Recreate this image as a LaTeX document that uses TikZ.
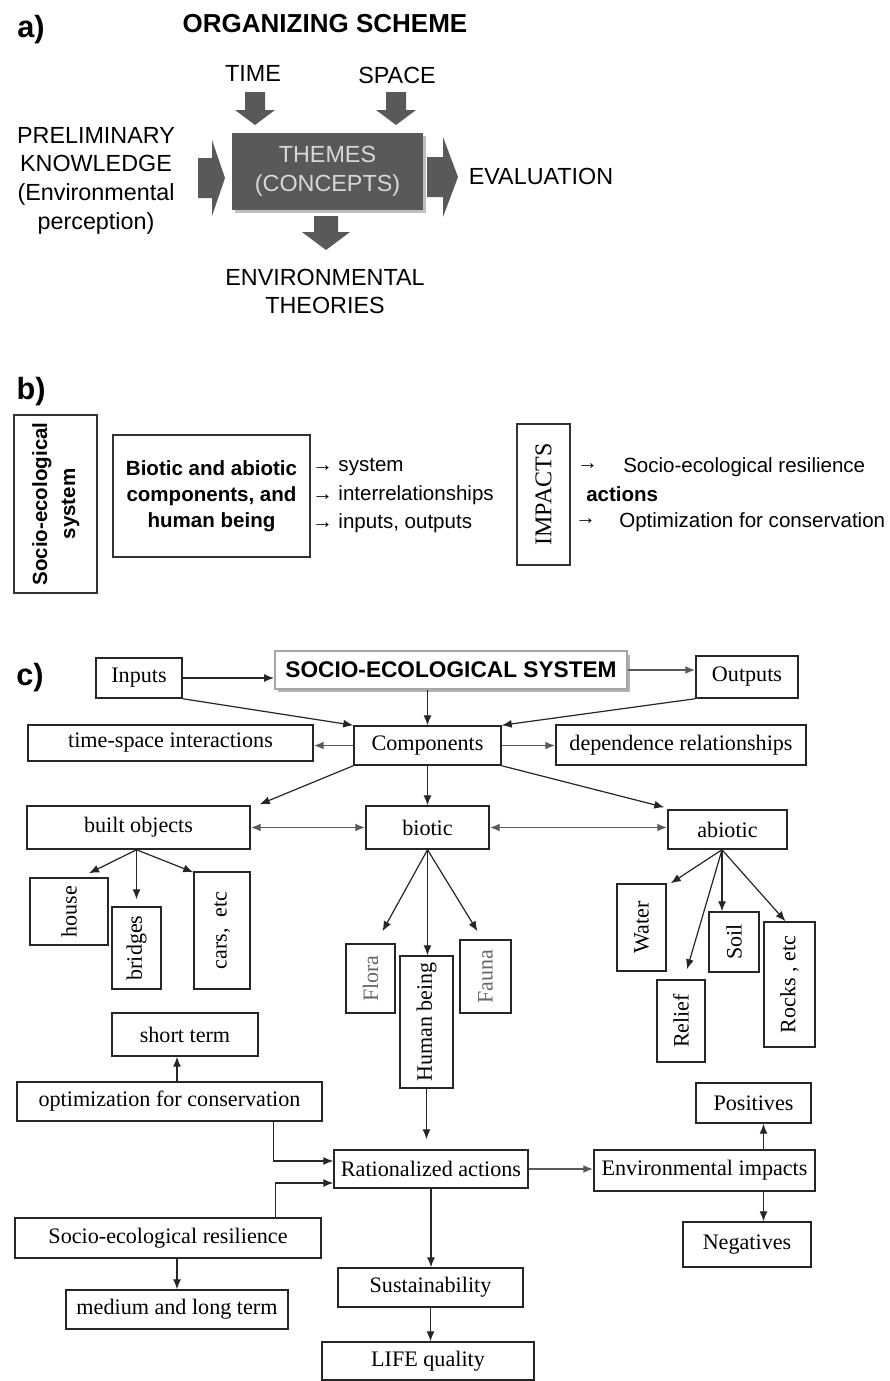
\documentclass[tikz,border=0pt]{standalone}
\usepackage{fontspec}
\setmainfont{Liberation Serif}
\setsansfont{Liberation Sans}
\usepackage{graphicx}
\usetikzlibrary{arrows.meta,calc}
\definecolor{agray}{RGB}{89,89,89}
\definecolor{atext}{RGB}{215,215,215}
\begin{document}
\begin{tikzpicture}[x=0.75pt,y=-0.75pt,
  wh/.style 2 args={minimum width=#1*0.75pt,minimum height=#2*0.75pt},
  lab/.style={font=\sffamily\bfseries\fontsize{23}{26}\selectfont, inner sep=0},
  atx/.style={font=\sffamily\fontsize{17.5}{21.5}\selectfont, align=center, inner sep=0},
  bbox/.style={draw=black!80, line width=1pt, inner sep=0},
  btx/.style={font=\sffamily\fontsize{15.4}{19.5}\selectfont, anchor=west, inner sep=0},
  cbox/.style={draw=black!85, line width=1.1pt, inner sep=0, fill=white, font=\fontsize{16.6}{19}\selectfont},
  vbox/.style={cbox, font=\fontsize{16.5}{19}\selectfont},
  tip/.tip={Latex[length=7.5pt,width=6pt]},
  arr/.style={draw=black!85, line width=0.9pt, -tip},
  garr/.style={arr, line width=1.4pt, draw=black!65},
  darr/.style={garr, tip-tip},
]
\useasboundingbox (0,0) rectangle (889,1381);
\fill[white] (0,0) rectangle (889,1381);

% ---------------- a)
\node[lab] (la) at (31,30) {a)};
\node[font=\sffamily\bfseries\fontsize{19.5}{22}\selectfont, inner sep=0] (title) at (325,24) {ORGANIZING SCHEME};
\node[atx] (time) at (253,73) {TIME};
\node[atx] (space) at (397,75) {SPACE};
\fill[black!25] (235,136) rectangle (426,213);
\node[atx, fill=agray, text=atext, wh={191}{77}] (themes) at (327.5,171.5) {THEMES\\(CONCEPTS)};
\node[atx] (prelim) at (96,180.5) {PRELIMINARY\\KNOWLEDGE\\(Environmental\\perception)};
\node[atx] (eval) at (541,176) {EVALUATION};
\node[atx] (envth) at (325,291.5) {ENVIRONMENTAL\\THEORIES};
% block arrows
\fill[agray] (245,92) -- (265,92) -- (265,110) -- (275,110) -- (255,125) -- (235,110) -- (245,110) -- cycle;
\fill[agray] (386,92) -- (406,92) -- (406,110) -- (416,110) -- (396,125) -- (376,110) -- (386,110) -- cycle;
\fill[agray] (314,216) -- (338,216) -- (338,232) -- (350,232) -- (326,250) -- (302,232) -- (314,232) -- cycle;
\fill[agray] (198,158) -- (212,158) -- (212,140) -- (225,178) -- (212,216) -- (212,198) -- (198,198) -- cycle;
\fill[agray] (427,157) -- (443,157) -- (443,137) -- (458,177) -- (443,217) -- (443,197) -- (427,197) -- cycle;

% ---------------- b)
\node[lab] (lb) at (31,392) {b)};
\node[bbox, wh={83}{178}] (socio) at (55.5,504)
  {\rotatebox{90}{\sffamily\bfseries\fontsize{15.4}{21}\selectfont\begin{tabular}{@{}c@{}}Socio-ecological\\system\end{tabular}}};
\node[bbox, wh={197}{122}, align=center, font=\sffamily\bfseries\fontsize{15.4}{19.5}\selectfont] (bio) at (211.5,496)
  {Biotic and abiotic\\components, and\\human being};
\node[btx] (l1) at (312,467) {→ system};
\node[btx] (l2) at (312,495) {→ interrelationships};
\node[btx] (l3) at (312,523) {→ inputs, outputs};
\node[bbox, wh={53}{141}] (impacts) at (543.5,494.5) {\rotatebox{90}{\rmfamily\fontsize{18}{20}\selectfont IMPACTS}};
\node[btx] (r1a) at (577,467) {→};
\node[btx] (r1) at (623,467) {Socio-ecological resilience};
\node[btx, font=\sffamily\bfseries\fontsize{15.4}{19.5}\selectfont] (r2) at (586,494) {actions};
\node[btx] (r3a) at (575,522) {→};
\node[btx] (r3) at (619,522) {Optimization for conservation};

% ---------------- c)
\node[lab] (lc) at (30,678) {c)};
\fill[black!30] (278,655) rectangle (630,692);
\node[cbox, draw=black!35, line width=1.5pt, wh={352}{38}, font=\sffamily\bfseries\fontsize{17}{20}\selectfont] (ses) at (451,670) {SOCIO-ECOLOGICAL SYSTEM};
\node[cbox, wh={86}{40}] (inputs) at (139,678) {Inputs};
\node[cbox, wh={102}{42}] (outputs) at (747,677) {Outputs};
\node[cbox, wh={147}{39}] (comp) at (427.5,745.5) {Components};
\node[cbox, wh={285}{36}] (tsi) at (170.5,743) {time-space interactions};
\node[cbox, wh={250}{40}] (dep) at (681,745) {dependence relationships};
\node[cbox, wh={223}{43}] (built) at (138.5,827.5) {built objects};
\node[cbox, wh={123}{43}] (biotic) at (427.5,827.5) {biotic};
\node[cbox, wh={119}{39}] (abiotic) at (727.5,829.5) {abiotic};
\node[vbox, wh={78}{67}] (house) at (69,911.5) {\rotatebox{90}{house}};
\node[vbox, wh={49}{82}] (bridges) at (136.5,948) {\rotatebox{90}{bridges}};
\node[vbox, wh={56}{117}] (cars) at (222,930.5) {\rotatebox{90}{cars,\ \ etc}};
\node[vbox, wh={49}{69}, text=black!60] (flora) at (370.5,978.5) {\rotatebox{90}{Flora}};
\node[vbox, wh={53}{132}] (human) at (426.5,1022) {\rotatebox{90}{Human being}};
\node[vbox, wh={51}{73}, text=black!60] (fauna) at (485.5,976.5) {\rotatebox{90}{Fauna}};
\node[vbox, wh={49}{87}] (water) at (641.5,927.5) {\rotatebox{90}{Water}};
\node[vbox, wh={48}{82}] (relief) at (681,1021) {\rotatebox{90}{Relief}};
\node[vbox, wh={50}{60}] (soil) at (734,942) {\rotatebox{90}{Soil}};
\node[vbox, wh={51}{125}] (rocks) at (789.5,984.5) {\rotatebox{90}{Rocks , etc}};
\node[cbox, wh={146}{43}] (short) at (185,1034.5) {short term};
\node[cbox, wh={305}{39}] (opt) at (169.5,1101.5) {optimization for conservation};
\node[cbox, wh={194}{38}] (rat) at (431,1169) {Rationalized actions};
\node[cbox, wh={306}{40}] (res) at (168,1238) {Socio-ecological resilience};
\node[cbox, wh={222}{39}] (med) at (177,1309.5) {medium and long term};
\node[cbox, wh={185}{39}] (sus) at (430.5,1287.5) {Sustainability};
\node[cbox, wh={212}{38}] (life) at (428,1361) {LIFE quality};
\node[cbox, wh={221}{41}] (env) at (704.5,1170.5) {Environmental impacts};
\node[cbox, wh={115}{40}] (pos) at (753.5,1103) {Positives};
\node[cbox, wh={128}{45}] (neg) at (747,1244.5) {Negatives};

\coordinate (xs) at (177,0);
\coordinate (xpn) at (763.5,0);
\coordinate (abo) at ($(abiotic.south)+(-5.5,0)$);
\coordinate (bo) at ($(built.south)+(-2,0)$);

\draw[arr] (inputs.east) -- (inputs.east -| ses.west);
\draw[garr] (ses.east) -- (ses.east -| outputs.west);
\draw[arr] (inputs.south east) -- (comp.north west);
\draw[arr] (comp.north |- ses.south) -- (comp.north);
\draw[arr] (outputs.south west) -- (comp.north east);
\draw[garr] (comp.west) -- (comp.west -| tsi.east);
\draw[garr] (comp.east) -- (comp.east -| dep.west);
\draw[arr] (comp.south west) -- ($(built.north east)+(9,-1)$);
\draw[arr] (comp.south) -- (biotic.north);
\draw[arr] (comp.south east) -- ($(abiotic.north west)+(-3,-2)$);
\draw[darr] (built.east) -- (built.east -| biotic.west);
\draw[darr] (biotic.east) -- (biotic.east -| abiotic.west);
\draw[arr] (bo) -- ($(house.north)+(20,-4)$);
\draw[arr] (bo) -- ($(bridges.north)+(0,-7)$);
\draw[arr] (bo) -- ($(cars.north west)+(0,1)$);
\draw[arr] (biotic.south) -- ($(flora.north)+(12,-12)$);
\draw[arr] (biotic.south) -- (biotic.south |- human.north);
\draw[arr] (biotic.south) -- ($(fauna.north)+(-8,-8)$);
\draw[arr] (abo) -- ($(water.north east)+(4,0)$);
\draw[arr] (abo) -- ($(relief.north)+(6,-10)$);
\draw[arr] (abo) -- (abo |- soil.north);
\draw[arr] (abo) -- ($(rocks.north)+(-4,0)$);
\draw[arr] (opt.north -| xs) -- (short.south -| xs);
\draw[arr] (human.south) -- ($(human.south |- rat.north)+(0,-10)$);
\draw[arr] ($(opt.south west)+(200,0)$) -- ($(opt.south west)+(257,0)$) |- ($(rat.west)+(0,-8)$);
\draw[arr] ($(res.north west)+(261,0)$) |- ($(rat.west)+(0,14)$);
\draw[arr] (res.south -| xs) -- (med.north -| xs);
\draw[arr] (rat.south) -- (rat.south |- sus.north);
\draw[arr] (sus.south) -- (sus.south |- life.north);
\draw[garr] (rat.east) -- (rat.east -| env.west);
\draw[arr] (env.north -| xpn) -- (pos.south -| xpn);
\draw[arr] (env.south -| xpn) -- (neg.north -| xpn);
\end{tikzpicture}
\end{document}
